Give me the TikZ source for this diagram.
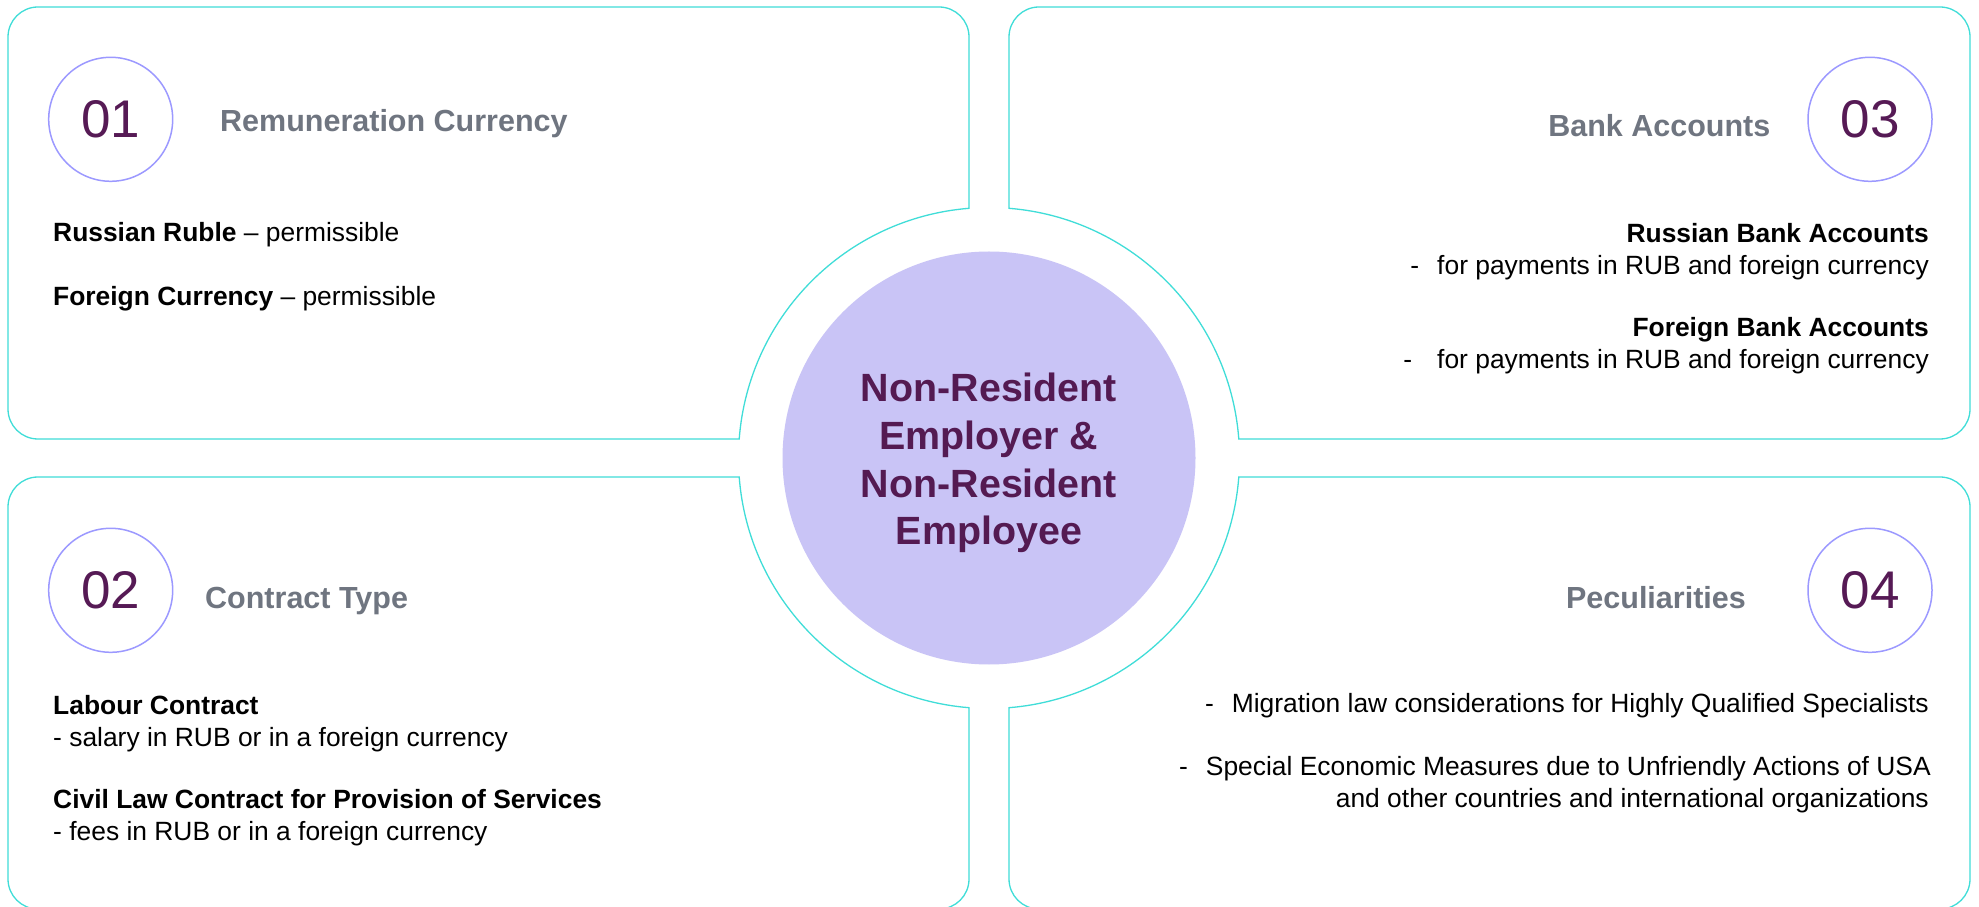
\documentclass[tikz,border=0pt]{standalone}
\usepackage{fontspec}
\setmainfont{Liberation Sans}
\definecolor{panelline}{HTML}{40DDD8}
\definecolor{ringline}{HTML}{9C99FF}
\definecolor{numpurple}{HTML}{561A55}
\definecolor{headgray}{HTML}{6F7580}
\definecolor{hubfill}{HTML}{C9C4F6}
\definecolor{hubtext}{HTML}{541A52}
\begin{document}
\begin{tikzpicture}[x=1pt, y=1pt,
    panel/.style={draw=panelline, line width=1.3pt},
    ring/.style={circle, draw=ringline, line width=1.5pt, minimum size=124pt, inner sep=0pt,
        text=numpurple, font=\fontsize{53}{60}\selectfont},
    heading/.style={inner sep=0pt, text=headgray, font=\fontsize{30.5}{36}\selectfont\bfseries},
    body/.style={inner sep=0pt, font=\fontsize{26.4}{32}\selectfont},
    hub/.style={circle, fill=hubfill, minimum size=413pt, inner sep=0pt},
    hublabel/.style={inner sep=0pt, align=center, text=hubtext,
        font=\fontsize{39.4}{47.8}\selectfont\bfseries}]
    \useasboundingbox (0,0) rectangle (1979,906);
    \clip (0,0) rectangle (1979,906);
    \fill[white] (0,0) rectangle (1979,906);

    % Bốn khung quanh vòng tròn giữa
    \draw[panel] (969,697.7) -- (969,869) arc[start angle=0, end angle=90, radius=30pt]
        -- (38,899) arc[start angle=90, end angle=180, radius=30pt]
        -- (8,497) arc[start angle=180, end angle=270, radius=30pt]
        -- (739.2,467) arc[start angle=175.65, end angle=94.58, radius=250.5pt] -- cycle;
    \draw[panel] (1009,697.7) -- (1009,869) arc[start angle=180, end angle=90, radius=30pt]
        -- (1940,899) arc[start angle=90, end angle=0, radius=30pt]
        -- (1970,497) arc[start angle=0, end angle=-90, radius=30pt]
        -- (1238.8,467) arc[start angle=4.35, end angle=85.42, radius=250.5pt] -- cycle;
    \draw[panel] (969,198.3) -- (969,27) arc[start angle=0, end angle=-90, radius=30pt]
        -- (38,-3) arc[start angle=270, end angle=180, radius=30pt]
        -- (8,399) arc[start angle=180, end angle=90, radius=30pt]
        -- (739.2,429) arc[start angle=184.35, end angle=265.42, radius=250.5pt] -- cycle;
    \draw[panel] (1009,198.3) -- (1009,27) arc[start angle=180, end angle=270, radius=30pt]
        -- (1940,-3) arc[start angle=270, end angle=360, radius=30pt]
        -- (1970,399) arc[start angle=0, end angle=90, radius=30pt]
        -- (1238.8,429) arc[start angle=-4.35, end angle=-85.42, radius=250.5pt] -- cycle;

    % Vòng tròn giữa
    \node[hub] (hub) at (989,448) {};
    \node[hublabel] (hubname) at ([yshift=-5pt]hub.center) {Non-Resident\\Employer \&\\Non-Resident\\Employee};

    % Số thứ tự và tiêu đề
    \node[ring] (n01) at (110.7,786.7) {01};
    \node[ring] (n02) at (110.7,315.7) {02};
    \node[ring] (n03) at (1870,786.7) {03};
    \node[ring] (n04) at (1870,315.7) {04};
    \node[heading, anchor=base west] (h01) at (220,774.3) {Remuneration Currency};
    \node[heading, anchor=base west] (h02) at (205,298) {Contract Type};
    \node[heading, anchor=base east] (h03) at (1770.5,769.5) {Bank Accounts};
    \node[heading, anchor=base east] (h04) at (1746,298) {Peculiarities};

    % Khung 01
    \node[body, anchor=base west] (cur1) at (53,664.3) {\textbf{Russian Ruble} – permissible};
    \node[body, anchor=base west] (cur2) at (53,600) {\textbf{Foreign Currency} – permissible};

    % Khung 02
    \node[body, anchor=base west] (con1) at (53,191.7) {\textbf{Labour Contract}};
    \node[body, anchor=base west] (con2) at (53,160) {- salary in RUB or in a foreign currency};
    \node[body, anchor=base west] (con3) at (53,97.3) {\textbf{Civil Law Contract for Provision of Services}};
    \node[body, anchor=base west] (con4) at (53,65.7) {- fees in RUB or in a foreign currency};

    % Khung 03
    \node[body, anchor=base east] (acc1) at (1929,663.3) {\textbf{Russian Bank Accounts}};
    \node[body, anchor=base east] (acc2) at (1929,631) {-\hspace{18pt}for payments in RUB and foreign currency};
    \node[body, anchor=base east] (acc3) at (1929,569) {\textbf{Foreign Bank Accounts}};
    \node[body, anchor=base east] (acc4) at (1929,537) {-\hspace{25pt}for payments in RUB and foreign currency};

    % Khung 04
    \node[body, anchor=base east] (pec1) at (1929,193.3) {-\hspace{18pt}Migration law considerations for Highly Qualified Specialists};
    \node[body, anchor=base east] (pec2) at (1931,130.7) {-\hspace{18pt}Special Economic Measures due to Unfriendly Actions of USA};
    \node[body, anchor=base east] (pec3) at (1929,98.3) {and other countries and international organizations};
\end{tikzpicture}
\end{document}
